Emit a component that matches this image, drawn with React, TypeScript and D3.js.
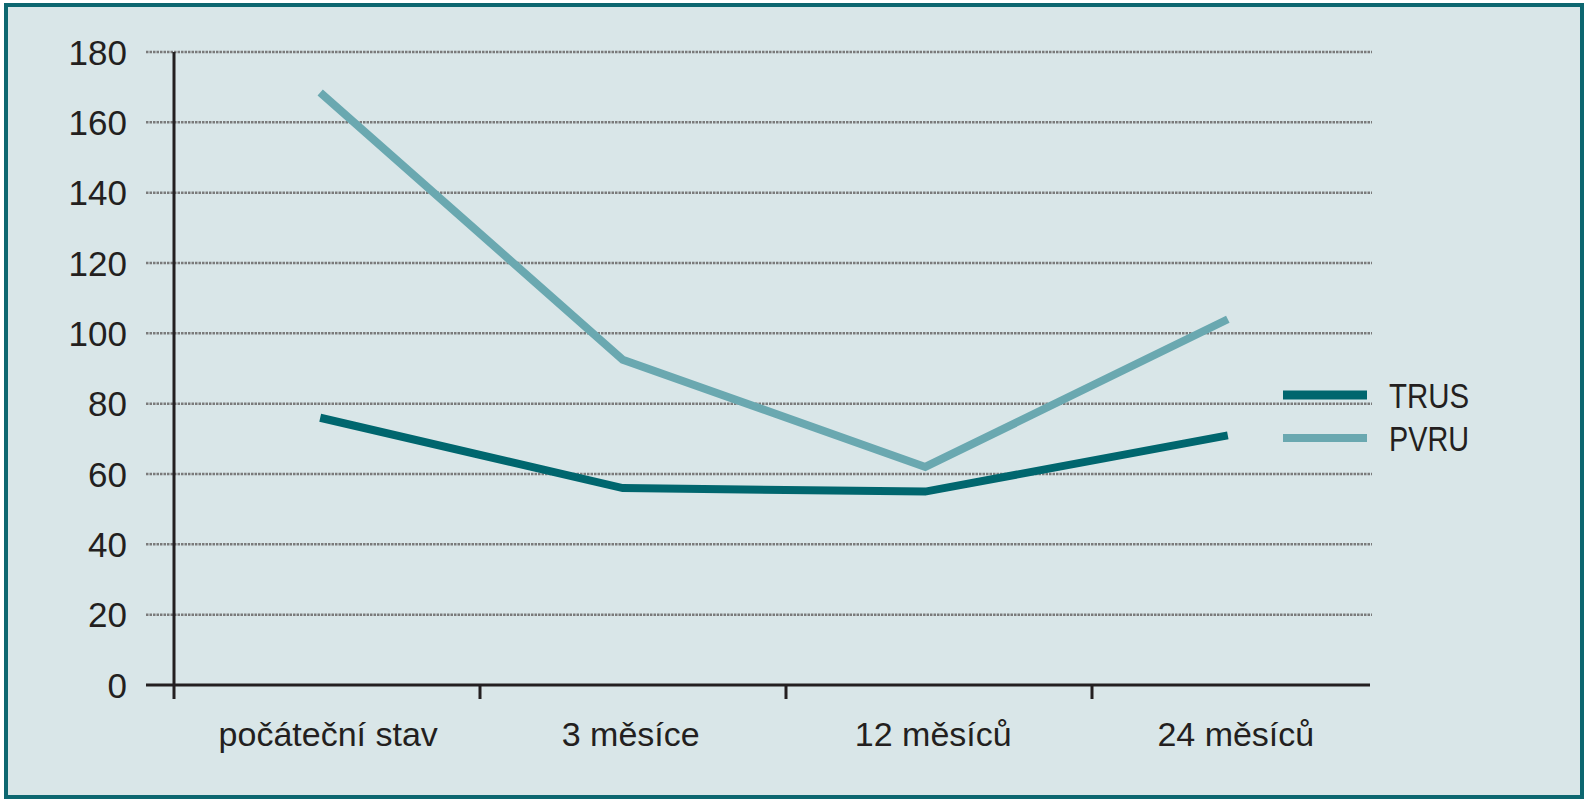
import React from "react";
import * as d3 from "d3";

const categories = ["počáteční stav", "3 měsíce", "12 měsíců", "24 měsíců"];
const trusValues = [76, 56, 55, 71];
const pvruValues = [168.5, 92.5, 62, 104];
const yTicks = [0, 20, 40, 60, 80, 100, 120, 140, 160, 180];
const seriesNames = ["TRUS", "PVRU"];

const W = 1589;
const H = 800;
const FONT = "'Liberation Sans', Arial, sans-serif";
const C_TRUS = "#00666e";
const C_PVRU = "#6aa8b0";
const BG = "#d9e6e8";
const FRAME = "#0d6770";
const AXIS = "#231f20";

export default function App() {
  const x = d3.scalePoint<string>().domain(categories).range([178, 1370]).padding(0.47);
  const xb = d3.scaleBand<string>().domain(categories).range([174, 1398]);
  const y = d3.scaleLinear().domain([0, 180]).range([685, 52]);

  const line = d3
    .line<number>()
    .x((_, i) => x(categories[i]) as number)
    .y((d) => y(d));

  const series = [
    { name: seriesNames[0], values: trusValues, color: C_TRUS, w: 8 },
    { name: seriesNames[1], values: pvruValues, color: C_PVRU, w: 8 },
  ];

  return (
    <svg
      width={W}
      height={H}
      style={{ position: "absolute", left: 0, top: 0, display: "block" }}
      fontFamily={FONT}
    >
      <rect x={0} y={0} width={W} height={H} fill="#ffffff" />
      <rect x={6} y={5} width={1576} height={792} fill={BG} stroke={FRAME} strokeWidth={4} />

      {/* grid lines */}
      {yTicks
        .filter((t) => t > 0)
        .map((t) => (
          <line
            key={"g" + t}
            x1={146}
            x2={1372}
            y1={y(t)}
            y2={y(t)}
            stroke="#7a7a7a"
            strokeWidth={2.5}
            strokeDasharray="2.5 1"
          />
        ))}

      {/* y labels */}
      {yTicks.map((t) => (
        <text
          key={"yl" + t}
          x={127}
          y={y(t)}
          dy="0.36em"
          textAnchor="end"
          fontSize={35}
          fill={AXIS}
        >
          {t}
        </text>
      ))}

      {/* axes */}
      <line x1={174} x2={174} y1={y(180)} y2={699} stroke={AXIS} strokeWidth={3} />
      <line x1={146} x2={1370} y1={y(0)} y2={y(0)} stroke={AXIS} strokeWidth={3} />
      {categories.slice(1).map((c) => (
        <line
          key={"t" + c}
          x1={xb(c) as number}
          x2={xb(c) as number}
          y1={y(0)}
          y2={699}
          stroke={AXIS}
          strokeWidth={3}
        />
      ))}

      {/* x labels */}
      {categories.map((c) => (
        <text
          key={"xl" + c}
          x={(x(c) as number) + 8}
          y={746}
          textAnchor="middle"
          fontSize={34}
          fill={AXIS}
        >
          {c}
        </text>
      ))}

      {/* lines */}
      {series.map((s) => (
        <path
          key={s.name}
          d={line(s.values) || ""}
          fill="none"
          stroke={s.color}
          strokeWidth={s.w}
          strokeLinejoin="miter"
        />
      ))}

      {/* legend */}
      {series.map((s, i) => (
        <g key={"lg" + s.name} transform={`translate(0, ${395 + i * 43})`}>
          <line x1={1283} x2={1367} y1={0} y2={0} stroke={s.color} strokeWidth={i === 0 ? 9 : 8} />
          <text
            x={1389}
            y={0}
            dy="0.37em"
            fontSize={35}
            fill={AXIS}
            textLength={80}
            lengthAdjust="spacingAndGlyphs"
          >
            {s.name}
          </text>
        </g>
      ))}
    </svg>
  );
}
